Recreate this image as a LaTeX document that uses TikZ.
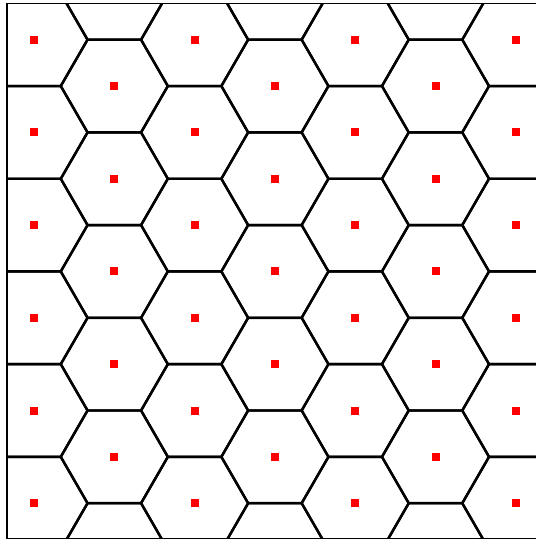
\documentclass[tikz,border=0pt]{standalone}
\usetikzlibrary{positioning}

\tikzset{
  cell/.style={line width=2.4pt, line join=miter},
  frame/.style={line width=1.3pt},
  site/.style={fill=red, inner sep=0pt, minimum size=8pt, rectangle},
}

\begin{document}
\begin{tikzpicture}[x=1pt,y=-1pt]
  \useasboundingbox (0,0) rectangle (535,540);
  % voronoi cells of the hexagonal lattice
  \begin{scope}
    \clip (7,3.5) rectangle (543,538.5);
    \foreach \i in {-1,...,7} {
      \foreach \j in {-1,...,6} {
        \pgfmathsetmacro{\cx}{34+80.3*\i}
        \pgfmathsetmacro{\cy}{39.7+92.7*\j+46.35*mod(\i+2,2)}
        \draw[cell] (\cx,\cy) ++(0:53.5) -- ++(120:53.5) -- ++(180:53.5)
          -- ++(240:53.5) -- ++(300:53.5) -- ++(0:53.5) -- cycle;
      }
    }
  \end{scope}
  \draw[frame] (7,3.5) rectangle (543,538.5);
  % sites
  \foreach \i in {0,2,4,6} {
    \foreach \j in {0,...,5}
      \node[site] (s-\i-\j) at ({34+80.3*\i},{39.7+92.7*\j}) {};
  }
  \foreach \i in {1,3,5} {
    \foreach \j in {0,...,4}
      \node[site] (s-\i-\j) at ({34+80.3*\i},{86.05+92.7*\j}) {};
  }
\end{tikzpicture}
\end{document}
